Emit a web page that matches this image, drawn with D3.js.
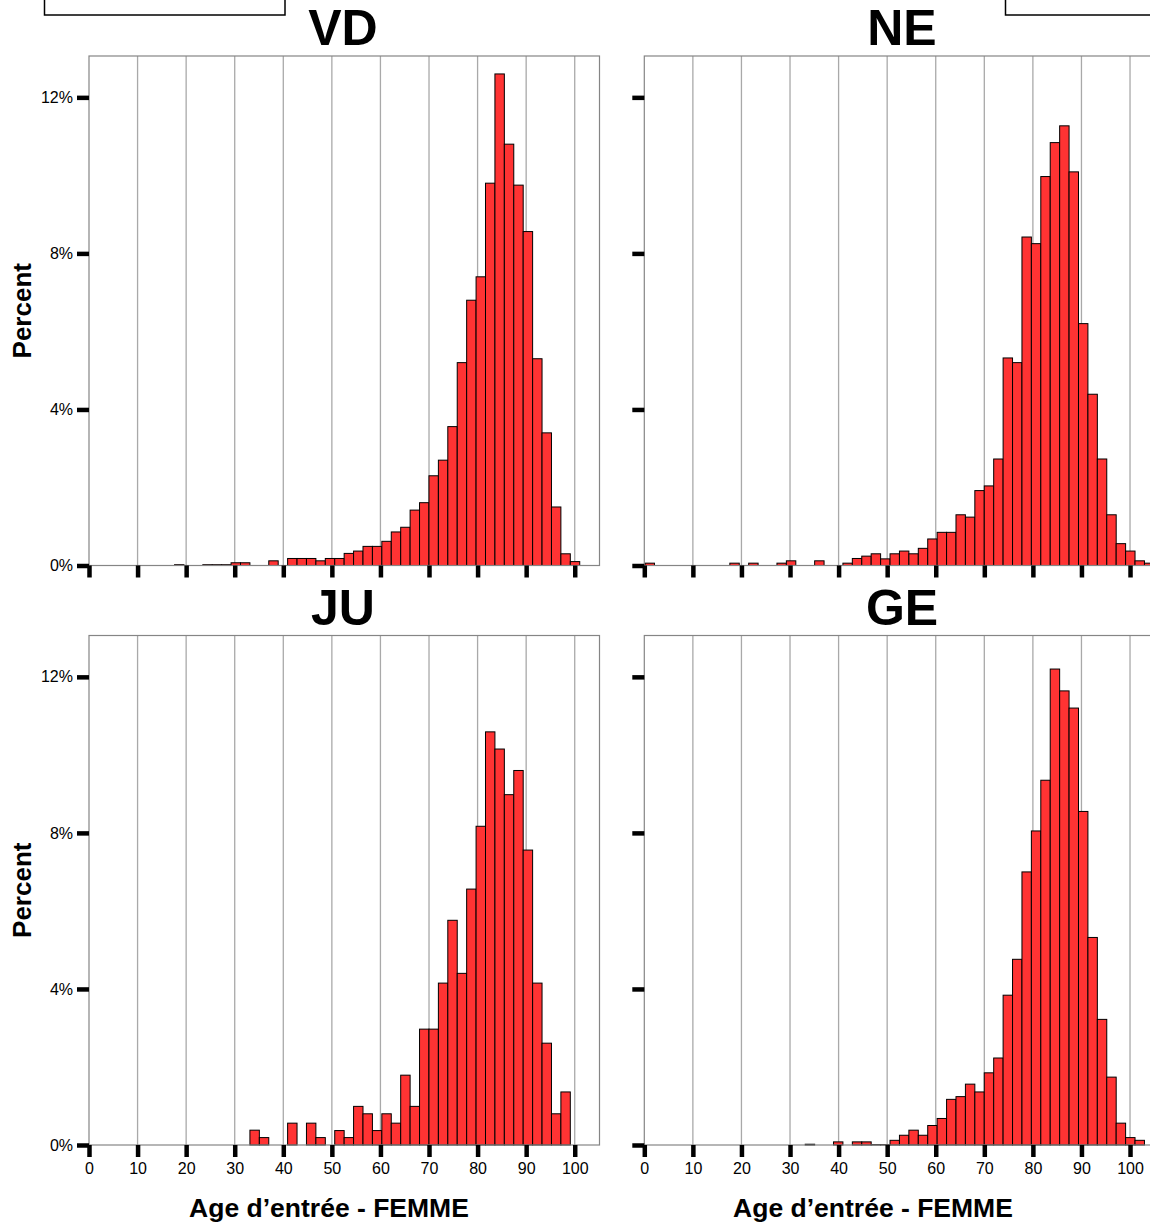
<!DOCTYPE html>
<html>
<head>
<meta charset="utf-8">
<script src="https://cdn.jsdelivr.net/npm/d3@7"></script>
<style>
  html, body { margin: 0; padding: 0; background: #fff; }
  svg { display: block; font-family: "Liberation Sans", Arial, sans-serif; }
</style>
</head>
<body>
<svg id="chart" width="1150" height="1227"></svg>
<script>
// ---- data (percent per age bin, bins of ~1.94 years starting at 0.15) ----
const binStart = 0.15;
const binWidth = 1.94;
const xTicks = [0, 10, 20, 30, 40, 50, 60, 70, 80, 90, 100];
const yTicks = [0, 4, 8, 12];
const panelNames = ["VD", "NE", "JU", "GE"];

const VD = [0, 0, 0, 0, 0, 0, 0, 0, 0, 0.02,
  0, 0, 0.02, 0.02, 0.02, 0.07, 0.07, 0, 0, 0.12,
  0, 0.18, 0.18, 0.18, 0.12, 0.18, 0.18, 0.31, 0.37, 0.49,
  0.49, 0.62, 0.86, 0.98, 1.42, 1.61, 2.3, 2.7, 3.56, 5.2,
  6.8, 7.4, 9.8, 12.6, 10.8, 9.75, 8.56, 5.3, 3.4, 1.5,
  0.3, 0.1, 0, 0];

const NE = [0.06, 0, 0, 0, 0, 0, 0, 0, 0, 0.06,
  0, 0.06, 0, 0, 0.06, 0.12, 0, 0, 0.12, 0,
  0, 0.06, 0.18, 0.24, 0.3, 0.17, 0.3, 0.37, 0.3, 0.44,
  0.68, 0.85, 0.85, 1.3, 1.24, 1.92, 2.04, 2.73, 5.32, 5.2,
  8.42, 8.25, 9.97, 10.84, 11.27, 10.09, 6.2, 4.39, 2.73, 1.3,
  0.56, 0.37, 0.12, 0.06];

const JU = [0, 0, 0, 0, 0, 0, 0, 0, 0, 0,
  0, 0, 0, 0, 0, 0, 0, 0.38, 0.19, 0,
  0, 0.56, 0, 0.56, 0.19, 0, 0.37, 0.19, 0.99, 0.8,
  0.37, 0.8, 0.56, 1.79, 0.99, 2.97, 2.97, 4.15, 5.76, 4.4,
  6.56, 8.17, 10.59, 10.15, 8.98, 9.6, 7.56, 4.15, 2.61, 0.8,
  1.36, 0, 0, 0];

const GE = [0, 0, 0, 0, 0, 0, 0, 0, 0, 0,
  0, 0, 0, 0, 0, 0, 0, 0.02, 0, 0,
  0.08, 0, 0.08, 0.08, 0.01, 0.01, 0.12, 0.25, 0.38, 0.25,
  0.5, 0.68, 1.17, 1.24, 1.56, 1.36, 1.85, 2.23, 3.84, 4.76,
  7.0, 8.05, 9.35, 12.2, 11.64, 11.2, 8.55, 5.32, 3.22, 1.74,
  0.56, 0.19, 0.12, 0];

const xTitle = "Age d\u2019entrée - FEMME";
const yTitle = "Percent";

// ---- layout ----
const svg = d3.select("#chart");
const plotW = 510.5, plotH = 509.5;
const panels = [
  { name: panelNames[0], data: VD, left: 89,    top: 56,    yLabels: true,  xLabels: false, titleX: 343, xTitleX: null },
  { name: panelNames[1], data: NE, left: 644.3, top: 56,    yLabels: false, xLabels: false, titleX: 902, xTitleX: null },
  { name: panelNames[2], data: JU, left: 89,    top: 635.5, yLabels: true,  xLabels: true,  titleX: 343, xTitleX: 329 },
  { name: panelNames[3], data: GE, left: 644.3, top: 635.5, yLabels: false, xLabels: true,  titleX: 902, xTitleX: 873 }
];

// clipped boxes at top (legend remnants)
svg.append("rect").attr("x", 44.5).attr("y", -10).attr("width", 240.5).attr("height", 25)
  .attr("fill", "#fff").attr("stroke", "#000").attr("stroke-width", 1.5);
svg.append("rect").attr("x", 1005.5).attr("y", -10).attr("width", 200).attr("height", 25)
  .attr("fill", "#fff").attr("stroke", "#000").attr("stroke-width", 1.5);

const x = d3.scaleLinear().domain([0, 105.1]).range([0, plotW]);
const y = d3.scaleLinear().domain([0, 13.06]).range([plotH, 0]);

panels.forEach(p => {
  const g = svg.append("g").attr("transform", `translate(${p.left},${p.top})`);

  // title
  svg.append("text")
    .attr("x", p.titleX)
    .attr("y", p.top - 11)
    .attr("text-anchor", "middle")
    .attr("font-size", 50).attr("font-weight", "bold")
    .text(p.name);

  // gridlines
  g.selectAll("line.grid").data(xTicks.slice(1)).join("line")
    .attr("class", "grid")
    .attr("x1", d => x(d)).attr("x2", d => x(d))
    .attr("y1", 0).attr("y2", plotH)
    .attr("stroke", "#a9a9a9").attr("stroke-width", 1.3);

  // bars
  const bins = p.data.map((v, i) => ({ x0: binStart + i * binWidth, x1: binStart + (i + 1) * binWidth, v }))
    .filter(d => d.v > 0);
  g.selectAll("rect.bar").data(bins).join("rect")
    .attr("class", "bar")
    .attr("x", d => x(d.x0)).attr("width", d => x(d.x1) - x(d.x0))
    .attr("y", d => y(d.v)).attr("height", d => y(0) - y(d.v))
    .attr("fill", "#ff3333").attr("stroke", "#000").attr("stroke-width", 1);

  // border
  g.append("rect").attr("x", 0).attr("y", 0).attr("width", plotW).attr("height", plotH)
    .attr("fill", "none").attr("stroke", "#858585").attr("stroke-width", 1.2);

  // x axis
  const xa = d3.axisBottom(x).tickValues(xTicks).tickSize(12).tickPadding(6)
    .tickFormat(p.xLabels ? d3.format("d") : () => "");
  const gx = g.append("g").attr("transform", `translate(0,${plotH})`).call(xa);
  gx.select(".domain").remove();
  gx.selectAll(".tick line").attr("stroke", "#000").attr("stroke-width", 4.5);
  gx.selectAll(".tick text").attr("font-size", 16).attr("fill", "#000")
    .attr("font-family", "Liberation Sans, Arial, sans-serif");

  // y axis
  const ya = d3.axisLeft(y).tickValues(yTicks).tickSize(12).tickPadding(4)
    .tickFormat(p.yLabels ? (d => d + "%") : () => "");
  const gy = g.append("g").call(ya);
  gy.select(".domain").remove();
  gy.selectAll(".tick line").attr("stroke", "#000").attr("stroke-width", 4.5);
  gy.selectAll(".tick text").attr("font-size", 16).attr("fill", "#000")
    .attr("font-family", "Liberation Sans, Arial, sans-serif");

  // y title
  if (p.yLabels) {
    svg.append("text")
      .attr("transform", `translate(31,${p.top + plotH / 2}) rotate(-90)`)
      .attr("text-anchor", "middle")
      .attr("font-size", 26).attr("font-weight", "bold")
      .text(yTitle);
  }
  // x title
  if (p.xLabels) {
    svg.append("text")
      .attr("x", p.xTitleX).attr("y", 1217)
      .attr("text-anchor", "middle")
      .attr("font-size", 26.5).attr("font-weight", "bold")
      .text(xTitle);
  }
});
</script>
</body>
</html>
